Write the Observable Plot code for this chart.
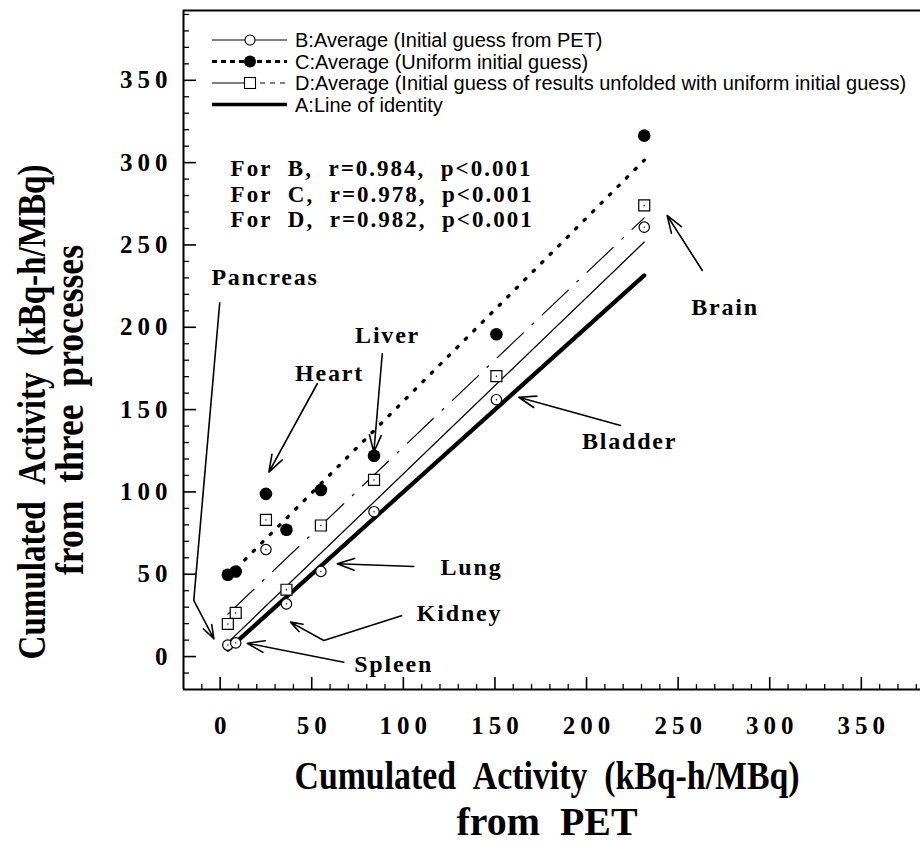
<!DOCTYPE html>
<html><head><meta charset="utf-8">
<script src="https://cdn.jsdelivr.net/npm/d3@7"></script>
<script src="https://cdn.jsdelivr.net/npm/@observablehq/plot@0.6"></script>
<style>
body{margin:0;background:#fff}
</style></head><body><div id="chart"></div><script>
// ---- data ----
const organs = ["Pancreas","Spleen","Heart","Kidney","Lung","Liver","Bladder","Brain"];
const pet    = [4.2, 8.5, 25, 36.2, 55, 84, 150.8, 231.5];          // x: from PET
const avgB   = [7, 8.3, 65, 32, 51.7, 88, 156, 260.8];              // B: initial guess from PET
const avgC   = [49.7, 51.7, 98.8, 77, 101.2, 122, 195.8, 316.4];    // C: uniform initial guess
const avgD   = [19.8, 26.5, 83, 40.6, 79.6, 107.3, 170.3, 274];     // D: unfolded w/ uniform guess

const xMajor = [0, 50, 100, 150, 200, 250, 300, 350];
const yMajor = [0, 50, 100, 150, 200, 250, 300, 350];
const xMinor = d3.range(-10, 381, 10).filter(v => v % 50 !== 0);
const yMinor = d3.range(-10, 391, 10).filter(v => v % 50 !== 0);

// organ label positions (data units)
const labelNames = ["Pancreas","Heart","Liver","Lung","Kidney","Spleen","Bladder","Brain"];
const labelX = [24.5, 59.7, 91.4, 137.2, 130.7, 94.7, 223.5, 275.6];
const labelY = [230.2, 171.8, 195.0, 54.3, 26.0, -4.4, 130.6, 212.2];

// arrows (tail -> head), data units
const arrowX1 = [-14.4, 53, 88.5, 105.7, 56.6, 67.5, 218.6, 263.2];
const arrowY1 = [34.1, 165.7, 183.9, 54.7, 9.8, -3.4, 140.4, 234.5];
const arrowX2 = [-3.4, 26.6, 83.9, 63.9, 38.4, 14.8, 163.0, 244.0];
const arrowY2 = [10.8, 112, 124.1, 56.4, 20.9, 8.1, 157.5, 267.9];
// leader segments (Pancreas, Kidney)
const segX1 = [-0.2, 99.4], segY1 = [215.2, 25], segX2 = [-14.4, 56.6], segY2 = [34.1, 9.8];

const statSeries = ["B","C","D"];
const statR = ["0.984","0.978","0.982"];
const statP = ["p<0.001","p<0.001","p<0.001"];
const statX = 5.7, statY = [296.2, 280.7, 265.5];

const legendLabels = [
  "B:Average (Initial guess from PET)",
  "C:Average (Uniform initial guess)",
  "D:Average (Initial guess of results unfolded with uniform initial guess)",
  "A:Line of identity"
];

// ---- build ----
const data = organs.map((o,i)=>({organ:o, pet:pet[i], b:avgB[i], c:avgC[i], d:avgD[i]}));
const arrows = arrowX1.map((_,i)=>({x1:arrowX1[i],y1:arrowY1[i],x2:arrowX2[i],y2:arrowY2[i]}));
const segs = segX1.map((_,i)=>({x1:segX1[i],y1:segY1[i],x2:segX2[i],y2:segY2[i]}));
const labels = labelNames.map((n,i)=>({name:n,x:labelX[i],y:labelY[i]}));
const NB = "\u00A0\u00A0";
const stats = statSeries.map((s,i)=>({t:`For${NB}${s},${NB}r=${statR[i]},${NB}${statP[i]}`, y:statY[i]}));

const W=920, H=853, ML=183, MR=0, MT=10, MB=164;
const innerW = W-ML-MR, innerH = H-MT-MB;
const xDom=[-20,382.3], yDom=[-20,392.4];
const serif = "Liberation Serif, Times New Roman, serif";

const plot = Plot.plot({
  width:W, height:H, marginLeft:ML, marginRight:MR, marginTop:MT, marginBottom:MB,
  x:{domain:xDom, axis:null}, y:{domain:yDom, axis:null},
  style:{background:"white", color:"black"},
  marks:[
    // frame (left, bottom, top)
    Plot.ruleX([xDom[0]], {strokeWidth:2}),
    Plot.ruleY([yDom[0], yDom[1]], {strokeWidth:2}),
    // ticks, pointing inward
    Plot.ruleX(xMajor, {insetTop: innerH-12, strokeWidth:1.6}),
    Plot.ruleX(xMinor, {insetTop: innerH-5, strokeWidth:1.3}),
    Plot.ruleY(yMajor, {insetRight: innerW-13, strokeWidth:1.6}),
    Plot.ruleY(yMinor, {insetRight: innerW-6, strokeWidth:1.3}),
    // tick labels
    Plot.text(xMajor, {x:d=>d, text:d=>String(d), frameAnchor:"bottom", dy:44, dx:2.5,
      fontSize:25, fontWeight:"bold", fontFamily:serif}),
    Plot.text(yMajor, {y:d=>d, text:d=>String(d), frameAnchor:"left", dx:-11, textAnchor:"end",
      fontSize:25, fontWeight:"bold", fontFamily:serif}),
    // regression lines and identity
    Plot.linearRegressionY(data, {x:"pet", y:"c", ci:0, stroke:"black", strokeWidth:3.4,
      strokeDasharray:"1.5 10.5", strokeLinecap:"round"}),
    Plot.linearRegressionY(data, {x:"pet", y:"d", ci:0, stroke:"black", strokeWidth:1.2,
      strokeDasharray:"36 12 2 12"}),
    Plot.linearRegressionY(data, {x:"pet", y:"b", ci:0, stroke:"black", strokeWidth:1.3}),
    Plot.line(d3.extent(pet), {x:d=>d, y:d=>d, stroke:"black", strokeWidth:4.2}),
    // arrows and leaders
    Plot.link(segs, {x1:"x1",y1:"y1",x2:"x2",y2:"y2", stroke:"black", strokeWidth:1.6}),
    Plot.arrow(arrows, {x1:"x1",y1:"y1",x2:"x2",y2:"y2", stroke:"black", strokeWidth:1.6,
      headLength:17, headAngle:38}),
    // points
    Plot.dot(data, {x:"pet", y:"c", r:6.3, fill:"black", stroke:null}),
    Plot.dot(data, {x:"pet", y:"d", symbol:"square", r:6.2, fill:"white", stroke:"black", strokeWidth:1.2}),
    Plot.dot(data, {x:"pet", y:"b", r:5.2, fill:"white", stroke:"black", strokeWidth:1.2}),
    Plot.dot(data, {x:"pet", y:"d", r:0.7, fill:"black"}),
    Plot.dot(data, {x:"pet", y:"b", r:0.7, fill:"black"}),
    // annotations
    Plot.text(labels, {x:"x", y:"y", text:"name", fontSize:24, fontWeight:"bold", fontFamily:serif}),
    Plot.text(stats, {x:()=>statX, y:"y", text:"t", textAnchor:"start", fontSize:23, fontWeight:"bold",
      fontFamily:serif})
  ]
});
document.getElementById("chart").appendChild(plot);

const svg = d3.select(plot);
// letter spacing for the bold serif texts (text marks in order: xticks, yticks, organs, stats)
const textGroups = svg.selectAll('g[aria-label="text"]').nodes();
const spacing = [5, 5, 1.8, 2];
textGroups.forEach((g,i)=>{ if (spacing[i] != null) d3.select(g).selectAll("text").style("letter-spacing", spacing[i]+"px"); });

// ---- legend (inside frame, top-left) ----
const lg = svg.append("g").attr("font-family","Liberation Sans, Arial, sans-serif").attr("font-size",20).attr("text-anchor","start");
const lx0=212, lx1=287, lmx=250, ltx=295, ly0=40, lstep=21.5;
legendLabels.forEach((t,i)=>{
  const y = ly0 + i*lstep;
  const g = lg.append("g");
  if (i===0){
    g.append("line").attr("x1",lx0).attr("x2",lx1).attr("y1",y).attr("y2",y).attr("stroke","black").attr("stroke-width",1);
    g.append("circle").attr("cx",lmx).attr("cy",y).attr("r",5).attr("fill","white").attr("stroke","black").attr("stroke-width",1.1);
  } else if (i===1){
    g.append("line").attr("x1",lx0).attr("x2",lx1).attr("y1",y).attr("y2",y).attr("stroke","black").attr("stroke-width",2.8).attr("stroke-dasharray","5 4");
    g.append("circle").attr("cx",lmx).attr("cy",y).attr("r",6).attr("fill","black");
  } else if (i===2){
    g.append("line").attr("x1",lx0).attr("x2",lmx).attr("y1",y).attr("y2",y).attr("stroke","black").attr("stroke-width",1);
    g.append("line").attr("x1",lmx).attr("x2",lx1).attr("y1",y).attr("y2",y).attr("stroke","black").attr("stroke-width",1).attr("stroke-dasharray","5 5");
    g.append("rect").attr("x",lmx-5.5).attr("y",y-5.5).attr("width",11).attr("height",11).attr("fill","white").attr("stroke","black").attr("stroke-width",1.1);
  } else {
    g.append("line").attr("x1",lx0).attr("x2",lx1).attr("y1",y).attr("y2",y).attr("stroke","black").attr("stroke-width",3.5);
  }
  g.append("text").attr("x",ltx).attr("y",y).attr("dy","0.36em").attr("fill","black").attr("text-anchor","start").text(t);
});

// ---- axis titles (condensed bold serif) ----
const tg = svg.append("g").attr("font-family",serif).attr("font-weight","bold").attr("fill","black").attr("text-anchor","middle");
const xTitle = ["Cumulated\u00A0\u00A0Activity\u00A0\u00A0(kBq-h/MBq)", "from\u00A0\u00A0PET"];
const yTitle = ["Cumulated\u00A0\u00A0Activity\u00A0\u00A0(kBq-h/MBq)", "from\u00A0\u00A0three\u00A0\u00A0processes"];
tg.append("text").attr("x",547).attr("y",789).attr("font-size",40).attr("textLength",505).attr("lengthAdjust","spacingAndGlyphs").text(xTitle[0]);
tg.append("text").attr("x",547).attr("y",835).attr("font-size",40).attr("textLength",181).attr("lengthAdjust","spacingAndGlyphs").text(xTitle[1]);
tg.append("text").attr("transform","translate(45,412) rotate(-90)").attr("font-size",40).attr("textLength",495).attr("lengthAdjust","spacingAndGlyphs").text(yTitle[0]);
tg.append("text").attr("transform","translate(83,410) rotate(-90)").attr("font-size",40).attr("textLength",330).attr("lengthAdjust","spacingAndGlyphs").text(yTitle[1]);
</script></body></html>
